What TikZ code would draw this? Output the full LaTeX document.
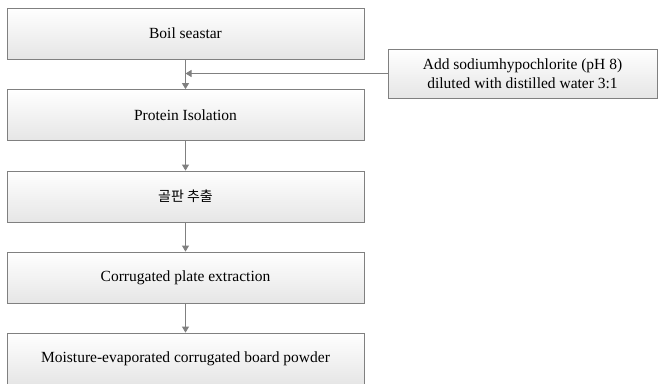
\documentclass[tikz,border=0pt]{standalone}
\usepackage{fontspec}
\setmainfont{Liberation Serif}
\newfontfamily\kofont{Noto Sans CJK KR}
\usepackage{tikz}
\usetikzlibrary{positioning,arrows.meta,calc}
\colorlet{edgegray}{black!50}
\tikzset{
  stepbox/.style={draw=edgegray, line width=0.8pt, top color=white, bottom color=black!10,
    minimum width=357pt, minimum height=51pt, align=center, inner sep=3pt,
    font=\fontsize{15.5}{18}\selectfont},
  addbox/.style={stepbox, minimum width=269pt, minimum height=49pt,
    font=\fontsize{15.5}{18.5}\selectfont},
  flow/.style={-{Triangle[length=6pt,width=7pt]}, line width=0.9pt, draw=edgegray},
}
\begin{document}
\begin{tikzpicture}[x=1pt,y=-1pt]
\useasboundingbox (0,0) rectangle (658,383);
% the five processing steps, one under another
\node[stepbox] (s1) at (185.5,33.5) {Boil seastar};
\node[stepbox] (s2) at (185.5,115)  {Protein Isolation};
\node[stepbox] (s3) at (185.5,196.5){{\kofont\fontsize{14}{16}\selectfont 골판 추출}};
\node[stepbox] (s4) at (185.5,277.5){Corrugated plate extraction};
\node[stepbox] (s5) at (185.5,358.5){Moisture-evaporated corrugated board powder};
% reagent added between the first two steps
\node[addbox] (add) at (522.5,73.5) {Add sodiumhypochlorite (pH 8)\\diluted with distilled water 3:1};
\foreach \i/\j in {1/2,2/3,3/4,4/5}{
  \draw[flow] (s\i.south) -- (s\j.north);}
\draw[flow] (add.west) -- (add.west -| s1.south);
\end{tikzpicture}
\end{document}
